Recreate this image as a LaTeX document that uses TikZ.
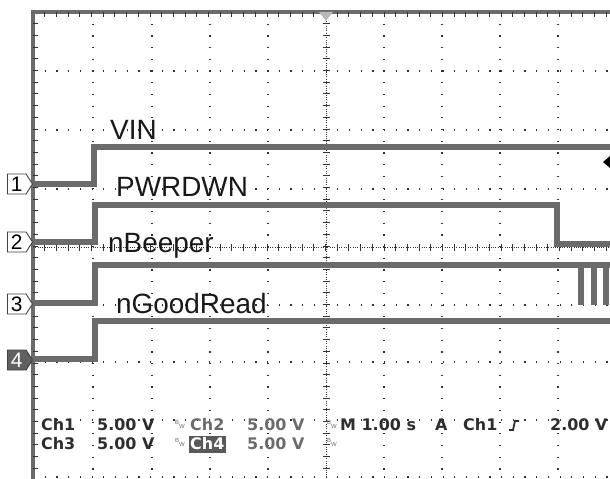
\documentclass[tikz,border=0pt]{standalone}
\usepackage{fontspec}
\usetikzlibrary{shapes.symbols}
\newfontfamily\sigfont{Liberation Sans}
\newfontfamily\readfont{DejaVu Sans}
\definecolor{trace}{gray}{0.42}
\definecolor{dots}{gray}{0.2}
\definecolor{readout}{gray}{0.18}
\definecolor{readlight}{gray}{0.42}

\begin{document}
\begin{tikzpicture}[x=1bp,y=-1bp]
        \tikzstyle{wave} = [trace,line width=5.5bp]
        \tikzstyle{gridline} = [dots,line width=1.2bp,dash pattern=on 1.2bp off 10.5bp]
        \tikzstyle{axis} = [dots,line width=0.9bp,dash pattern=on 0.9bp off 1.4bp]
        \tikzstyle{tick} = [dots,line width=0.9bp]
        \tikzstyle{sig} = [font=\sigfont\fontsize{28}{28}\selectfont,text=black!90,anchor=base west,inner sep=0pt]
        \tikzstyle{readtxt} = [font=\readfont\bfseries\fontsize{16}{16}\selectfont,text=readout,anchor=base west,inner sep=0pt]
        \tikzstyle{bwtxt} = [font=\sigfont\fontsize{6}{6}\selectfont,text=readlight,anchor=base west,inner sep=0pt]
        \tikzstyle{chmark} = [signal,signal to=east,signal pointer angle=115,draw=black!75,fill=white,line width=0.9bp,minimum width=25bp,minimum height=20bp,inner sep=0pt,anchor=east,font=\sigfont\fontsize{21}{21}\selectfont]

        \useasboundingbox (0,0) rectangle (610,479);

        % graticule
        \foreach \gx in {93,152,210,268,384,442,500,558}
            \draw[gridline] (\gx,12) -- (\gx,479);
        \foreach \gy in {71,130,189,305,362,420,477}
            \draw[gridline] (33,\gy) -- (610,\gy);

        \draw[axis] (326,12) -- (326,479);
        \draw[axis] (33,247) -- (610,247);
        \foreach \ty in {23.7,35.4,...,479}
            \draw[tick] (322.5,\ty) -- (329.5,\ty);
        \foreach \tx in {44.7,56.4,...,610}
            \draw[tick] (\tx,243.5) -- (\tx,250.5);

        % frame
        \draw[trace,line width=3.5bp] (33,479) -- (33,12) -- (610,12);
        \foreach \ty in {23.7,35.4,...,479}
            \draw[tick] (33,\ty) -- (38,\ty);
        \foreach \tx in {44.7,56.4,...,610}
            \draw[tick] (\tx,12) -- (\tx,17);
        \fill[gray!55] (319,12) -- (333,12) -- (326,21) -- cycle;

        % traces
        \draw[wave] (33,184) -- (94,184) -- (94,147) -- (610,147);
        \draw[wave] (33,242) -- (95,242) -- (95,205) -- (557,205) -- (557,244) -- (610,244);
        \draw[wave] (33,303) -- (95,303) -- (95,265) -- (610,265);
        \foreach \px in {581,594,606}
            \draw[trace,line width=5.5bp] (\px,265) -- (\px,305);
        \draw[wave] (33,359) -- (95,359) -- (95,321) -- (610,321);

        \fill[black] (603,162) -- (610,156) -- (610,168) -- cycle;

        % channel markers
        \node[chmark] (m1) at (33,184) {1};
        \node[chmark] (m2) at (33,242) {2};
        \node[chmark] (m3) at (33,304) {3};
        \node[chmark,fill=black!62,text=white] (m4) at (33,360) {4};

        % signal names
        \node[sig] (vin) at (110,140) {VIN};
        \node[sig] (pwrdwn) at (116,197) {PWRDWN};
        \node[sig] (nbeeper) at (108,252) {nBeeper};
        \node[sig] (ngoodread) at (116,313) {nGoodRead};

        % readout
        \node[readtxt] (ch1) at (41,430.5) {Ch1};
        \node[readtxt] (v1) at (97,430.5) {5.00 V};
        \node[bwtxt] (bw2) at (175,424) {B\raisebox{-4bp}{W}};
        \node[readtxt,text=readlight] (ch2) at (190,430.5) {Ch2};
        \node[readtxt,text=readlight] (v2) at (247,430.5) {5.00 V};
        \node[readtxt] (ch3) at (41,449) {Ch3};
        \node[readtxt] (v3) at (97,449) {5.00 V};
        \node[bwtxt] (bw4) at (175,442) {B\raisebox{-4bp}{W}};
        \fill[black!65] (189,436) rectangle (226,453);
        \node[readtxt,text=white] (ch4) at (190,449) {Ch4};
        \node[readtxt,text=readlight] (v4) at (247,449) {5.00 V};

        \node[bwtxt] (bwm) at (327,424) {B\raisebox{-4bp}{W}};
        \node[readtxt] (tbase) at (340,430.5) {M 1.00 s};
        \node[readtxt] (trig) at (435,430.5) {A};
        \node[readtxt] (trigch) at (463,430.5) {Ch1};
        \draw[readout,line width=1.8bp] (509,430) -- (513,430) -- (515,421) -- (519,421);
        \node[readtxt] (level) at (550,430.5) {2.00 V};
        \node[bwtxt] (bwm2) at (327,442) {B\raisebox{-4bp}{W}};

\end{tikzpicture}
\end{document}
